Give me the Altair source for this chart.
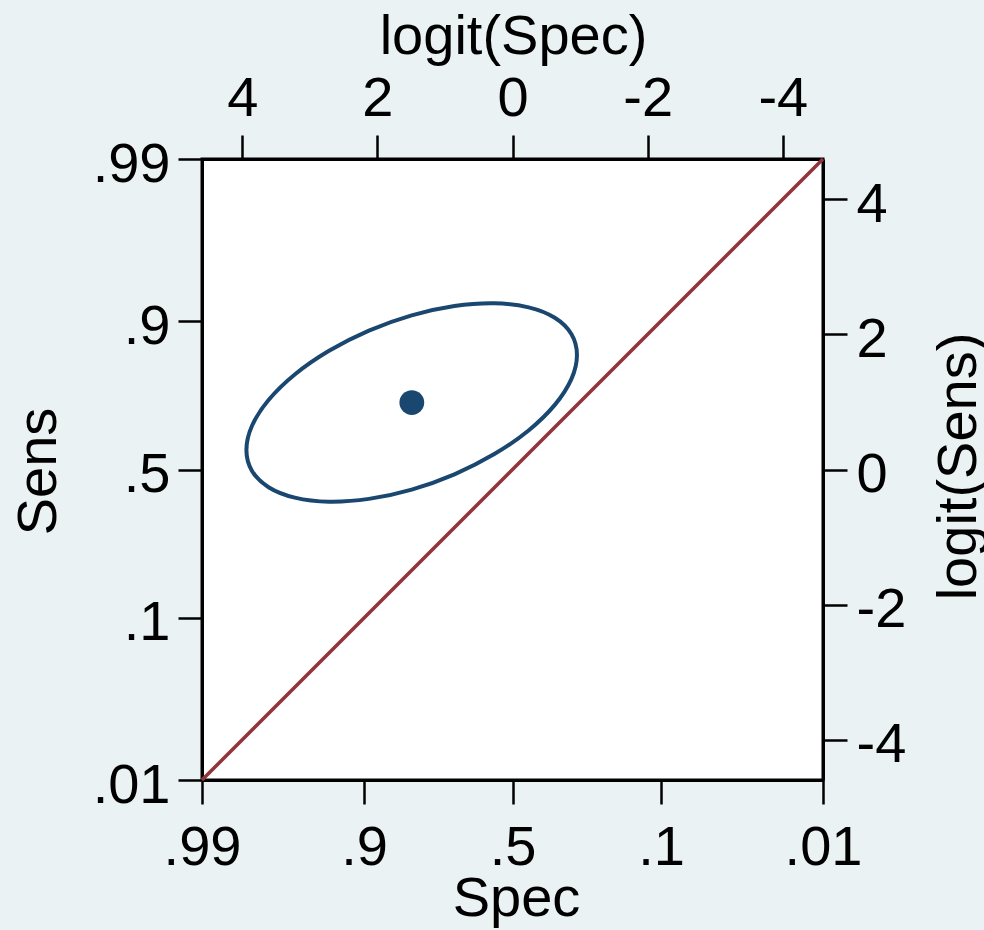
import altair as alt
import numpy as np
import pandas as pd

# ---- data ----
spec_ticks = [0.99, 0.9, 0.5, 0.1, 0.01]
spec_tick_labels = [".99", ".9", ".5", ".1", ".01"]
sens_ticks = [0.99, 0.9, 0.5, 0.1, 0.01]
sens_tick_labels = [".99", ".9", ".5", ".1", ".01"]
logit_ticks = [4, 2, 0, -2, -4]

# confidence ellipse outline, in logit units (logit(Spec), logit(Sens))
ell_lspec = [-0.954, -0.871, -0.626, -0.238, 0.269, 0.859, 1.492, 2.125,
             2.715, 3.222, 3.610, 3.855, 3.938, 3.855, 3.610, 3.222,
             2.715, 2.125, 1.492, 0.859, 0.269, -0.238, -0.626, -0.871]
ell_lsens = [1.695, 2.005, 2.246, 2.400, 2.460, 2.419, 2.281, 2.055,
             1.756, 1.406, 1.028, 0.647, 0.289, -0.021, -0.262, -0.416,
             -0.476, -0.435, -0.297, -0.071, 0.228, 0.578, 0.956, 1.337]

# summary operating point (logit units)
summary_lspec = [1.49]
summary_lsens = [0.99]

# chance line (Spec, Sens)
chance_spec = [0.99, 0.01]
chance_sens = [0.01, 0.99]


def logit(p):
    p = np.asarray(p, dtype=float)
    return np.log(p / (1 - p))


LIM = float(logit(0.99))

df_diag = pd.DataFrame({"ls": logit(chance_spec), "le": logit(chance_sens)})
df_ell = pd.DataFrame({"ls": ell_lspec, "le": ell_lsens, "i": list(range(len(ell_lspec)))})
df_pt = pd.DataFrame({"ls": summary_lspec, "le": summary_lsens})


def label_expr(ticks, labels):
    parts = [f"abs(datum.value - ({float(logit(t)):.6f})) < 0.01 ? '{l}'" for t, l in zip(ticks, labels)]
    return " : ".join(parts) + " : ''"


FONT = "Liberation Sans"
FS = 56
common = dict(
    tickSize=24, tickWidth=2.5, tickColor="black",
    domain=True, domainColor="black", domainWidth=3,
    labelFont=FONT, labelFontSize=FS, labelColor="black",
    labelFlush=False, labelOverlap=False, labelBound=False,
    grid=False,
    titleFont=FONT, titleFontSize=FS, titleColor="black", titleFontWeight="normal",
    titleAlign="center", titleBaseline="alphabetic",
)

bottom_axis = alt.Axis(orient="bottom", values=[float(v) for v in logit(spec_ticks)],
                       labelExpr=label_expr(spec_ticks, spec_tick_labels),
                       labelAngle=0, labelAlign="center", labelBaseline="alphabetic", labelPadding=60,
                       title="Spec", titleX=314, titleY=135, titleAngle=0, **common)
left_axis = alt.Axis(orient="left", values=[float(v) for v in logit(sens_ticks)],
                     labelExpr=label_expr(sens_ticks, sens_tick_labels),
                     labelAngle=0, labelAlign="right", labelBaseline="alphabetic", labelOffset=22,
                     labelPadding=8,
                     title="Sens", titleX=-147, titleY=312, titleAngle=270, **common)
top_axis = alt.Axis(orient="top", values=logit_ticks, labelExpr="'' + datum.value",
                    labelAngle=0, labelAlign="center", labelBaseline="alphabetic", labelPadding=20,
                    title="logit(Spec)", titleX=311, titleY=-106, titleAngle=0, **common)
right_axis = alt.Axis(orient="right", values=logit_ticks, labelExpr="'' + datum.value",
                      labelAngle=0, labelAlign="left", labelBaseline="alphabetic", labelOffset=22,
                      labelPadding=9,
                      title="logit(Sens)", titleX=152, titleY=307, titleAngle=270, **common)

xscale = alt.Scale(domain=[-LIM, LIM], reverse=True, nice=False, zero=False)
yscale = alt.Scale(domain=[-LIM, LIM], nice=False, zero=False)

diag = alt.Chart(df_diag).mark_line(color="#90353B", strokeWidth=3.5).encode(
    x=alt.X("ls:Q", scale=xscale, axis=bottom_axis),
    y=alt.Y("le:Q", scale=yscale, axis=left_axis),
)

ell = alt.Chart(df_ell).mark_line(color="#1A476F", strokeWidth=4,
                                  interpolate="cardinal-closed", strokeJoin="round").encode(
    x=alt.X("ls:Q", scale=xscale, axis=top_axis),
    y=alt.Y("le:Q", scale=yscale, axis=right_axis),
    order=alt.Order("i:Q"),
)

pt = alt.Chart(df_pt).mark_circle(color="#1A476F", opacity=1, size=615).encode(
    x=alt.X("ls:Q", scale=xscale, axis=None),
    y=alt.Y("le:Q", scale=yscale, axis=None),
)

chart = (
    alt.layer(diag, ell, pt)
    .resolve_scale(x="independent", y="independent")
    .resolve_axis(x="independent", y="independent")
    .properties(
        width=621, height=621,
        autosize=alt.AutoSizeParams(type="none"),
        padding={"left": 202, "top": 159, "right": 161, "bottom": 150},
        background="#EAF2F3",
    )
    .configure_view(fill="white", stroke="black", strokeWidth=3)
)

chart.save("out.html", embed_options={"renderer": "svg", "actions": False})
